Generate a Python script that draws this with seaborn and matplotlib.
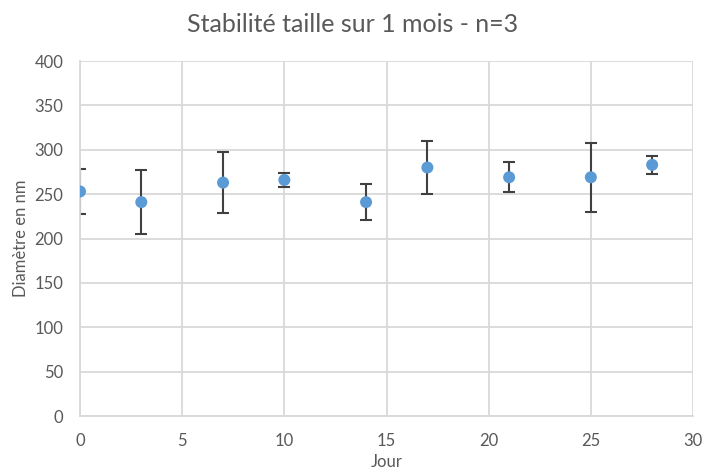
import numpy as np
import pandas as pd
import matplotlib
matplotlib.use('Agg')
import matplotlib.pyplot as plt
import seaborn as sns

# Data
jours = [0, 3, 7, 10, 14, 17, 21, 25, 28]
diametre = [253, 241, 263, 266, 241, 280, 269, 269, 283]
erreur = [25.5, 36, 34.5, 8.3, 20.5, 30, 17, 39, 10]

df = pd.DataFrame({'Jour': jours, 'Diametre': diametre, 'Erreur': erreur})

sns.set_style('white')
plt.rcParams['font.family'] = ['Lato', 'DejaVu Sans']

fig = plt.figure(figsize=(7.05, 4.73), dpi=100)
ax = fig.add_axes([0.1135, 0.1205, 0.8695, 0.7505])

text_col = '#595959'
grid_col = '#d9d9d9'

ax.errorbar(df['Jour'], df['Diametre'], yerr=df['Erreur'], fmt='none',
            ecolor='#404040', elinewidth=1.5, capsize=4, capthick=1.5, zorder=2)
sns.scatterplot(data=df, x='Jour', y='Diametre', ax=ax, color='#5b9bd5',
                s=75, edgecolor='none', zorder=3)

ax.set_xlim(0, 30)
ax.set_ylim(0, 400)
ax.set_xticks(range(0, 31, 5))
ax.set_yticks(range(0, 401, 50))
ax.grid(True, color=grid_col, linewidth=1.3)
ax.set_axisbelow(True)
for side in ['top', 'right']:
    ax.spines[side].set_visible(False)
for side in ['left', 'bottom']:
    ax.spines[side].set_color(grid_col)
    ax.spines[side].set_linewidth(1.3)
ax.tick_params(axis='x', length=0, labelsize=12, colors=text_col, pad=12)
ax.tick_params(axis='y', length=0, labelsize=12, colors=text_col, pad=12)

ax.set_xlabel('Jour', fontsize=12, color=text_col, labelpad=4)
ax.set_ylabel('Diamètre en nm', fontsize=12, color=text_col, labelpad=4)
fig.text(0.5, 0.948, 'Stabilité taille sur 1 mois - n=3', ha='center', va='center',
         fontsize=18, color=text_col)

fig.savefig('out.png', dpi=100)
